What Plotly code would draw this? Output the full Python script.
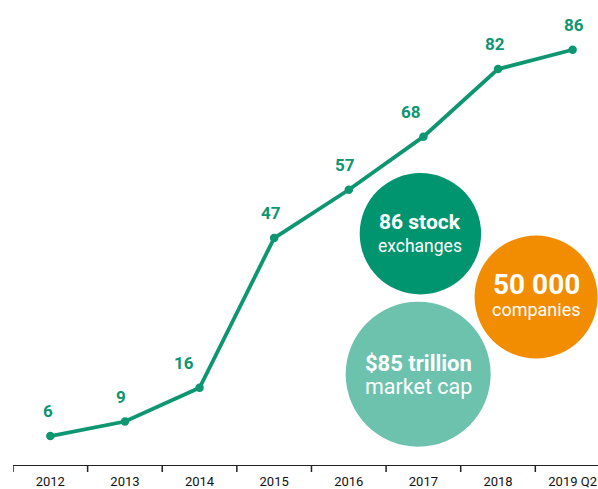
import plotly.graph_objects as go

years = ["2012", "2013", "2014", "2015", "2016", "2017", "2018", "2019 Q2"]
exchanges = [6, 9, 16, 47, 57, 68, 82, 86]
label_xshift = [-2, -4, -16, -3, -4, -12, -3, 1]

# bubbles: x index, y value, radius px, colour, bold line, regular line
bubble_x = [4.93, 4.96, 6.51]
bubble_y = [18.8, 47.9, 34.8]
bubble_r = [72.5, 60.7, 61.5]
bubble_color = ["#6cc2ad", "#00956f", "#f28c00"]
bubble_bold = ["$85 trillion", "86 stock", "50 000"]
bubble_reg = ["market cap", "exchanges", "companies"]
bubble_bold_size = [22, 21, 28]
bubble_reg_size = [21.5, 17.5, 18]
bubble_bold_shift = [11, 12, 12]
bubble_reg_shift = [-12, -12, -13]

GREEN = "#0d9670"
FONT = "Roboto, sans-serif"

fig = go.Figure()
fig.add_trace(go.Scatter(
    x=list(range(len(years))), y=exchanges, mode="lines+markers",
    line=dict(color=GREEN, width=3.8), marker=dict(color=GREEN, size=8.5),
    hoverinfo="skip", showlegend=False,
))

shapes = []
annotations = []
for i, v in enumerate(exchanges):
    annotations.append(dict(
        x=i, y=v, xref="x", yref="y", text=f"<b>{v}</b>", showarrow=False,
        yshift=25, xshift=label_xshift[i],
        font=dict(family=FONT, size=17, color=GREEN),
    ))

for k in range(len(bubble_x)):
    bx, by, r = bubble_x[k], bubble_y[k], bubble_r[k]
    shapes.append(dict(
        type="circle", xref="x", yref="y", xsizemode="pixel", ysizemode="pixel",
        xanchor=bx, yanchor=by, x0=-r, x1=r, y0=-r, y1=r,
        fillcolor=bubble_color[k], line=dict(width=0), layer="above",
    ))
    annotations.append(dict(
        x=bx, y=by, xref="x", yref="y", showarrow=False,
        text=f"<b>{bubble_bold[k]}</b>", yshift=bubble_bold_shift[k],
        font=dict(family=FONT, size=bubble_bold_size[k], color="white"),
    ))
    annotations.append(dict(
        x=bx, y=by, xref="x", yref="y", showarrow=False,
        text=bubble_reg[k], yshift=bubble_reg_shift[k],
        font=dict(family=FONT, size=bubble_reg_size[k], color="white"),
    ))

# tick marks on category boundaries
for i in range(len(years)):
    shapes.append(dict(
        type="line", xref="x", yref="paper", x0=i - 0.5, x1=i - 0.5,
        ysizemode="pixel", yanchor=0, y0=-7, y1=0,
        line=dict(color="#222", width=1.5), layer="above",
    ))

fig.update_layout(
    width=598, height=489,
    margin=dict(l=13, r=0, t=0, b=22),
    paper_bgcolor="white", plot_bgcolor="white",
    shapes=shapes, annotations=annotations,
    xaxis=dict(
        type="linear", range=[-0.5, 7.34],
        tickmode="array", tickvals=list(range(len(years))), ticktext=years,
        showgrid=False, zeroline=False, showline=True, linecolor="#222", linewidth=1,
        ticks="", ticklabelstandoff=4,
        tickfont=dict(family=FONT, size=13, color="#111"),
    ),
    yaxis=dict(range=[0, 96.3], visible=False),
)

fig.write_html("out.html", config={"displayModeBar": False},
               post_script="document.body.style.margin='0';")
